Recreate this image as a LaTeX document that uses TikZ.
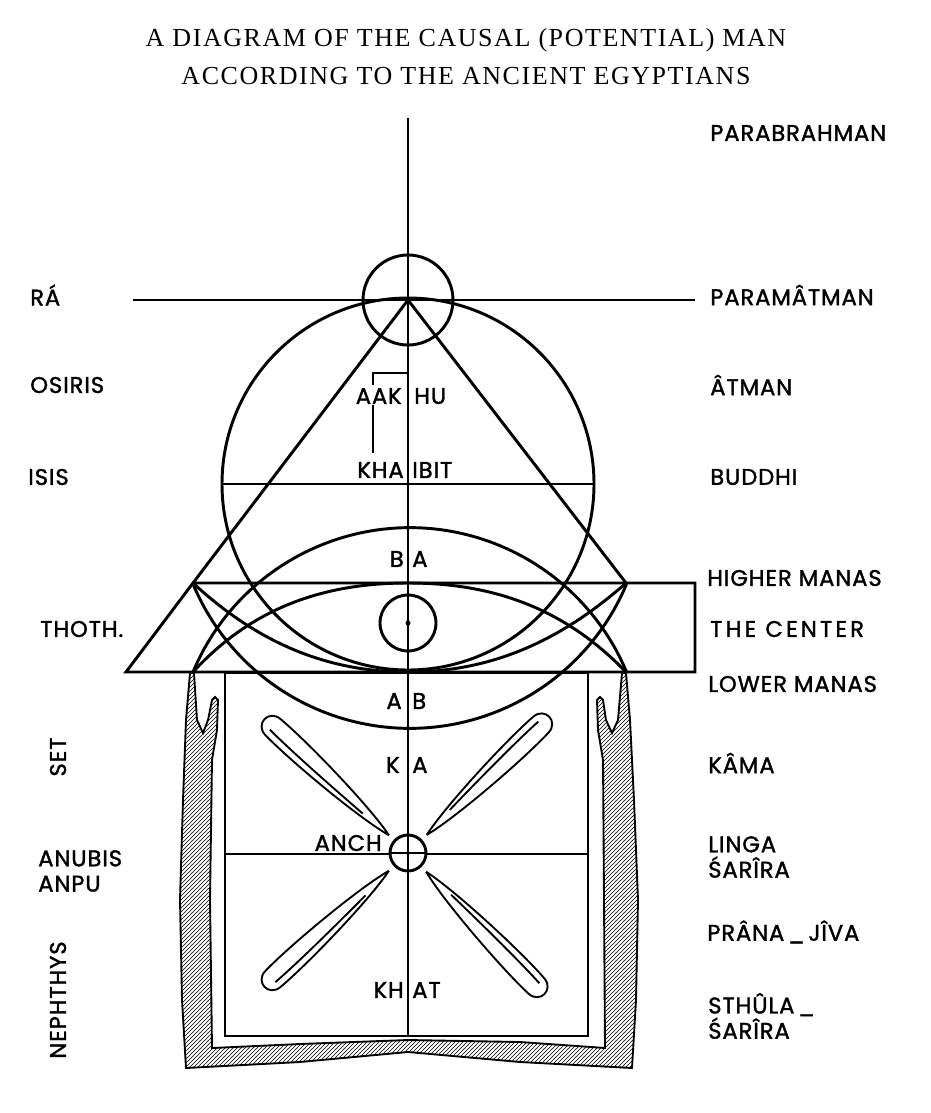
\documentclass[tikz,border=0pt]{standalone}
\usepackage{fontspec}
\setmainfont{Liberation Serif}
\newfontfamily\lab[FakeBold=1.5,LetterSpace=4]{Poppins}
\usetikzlibrary{patterns}
\begin{document}
\begin{tikzpicture}[x=0.75pt,y=-0.75pt,
  ln/.style={line width=2.2pt},
  thin/.style={line width=1.4pt},
  lbl/.style={font=\lab\fontsize{17}{19}\selectfont,inner sep=0pt},
  lblr/.style={lbl,anchor=west},
  lbll/.style={lbl,anchor=west},
  ttl/.style={font=\addfontfeature{LetterSpace=6}\fontsize{19.5}{22}\selectfont,inner sep=0pt}]
\useasboundingbox (0,0) rectangle (931,1113);
\fill[white] (0,0) rectangle (931,1113);
% title
\node[ttl] (t1) at (466,40) {A DIAGRAM OF THE CAUSAL (POTENTIAL) MAN};
\node[ttl] (t2) at (466,76) {ACCORDING TO THE ANCIENT EGYPTIANS};
% hatched frame
\draw[thin,pattern=north east lines] (190,673) -- (186,720) -- (183,800) -- (180,900) -- (182,1000) -- (186,1068)
  -- (300,1062) -- (408,1052) -- (520,1062) -- (632,1068)
  -- (636,1000) -- (638,900) -- (634,800) -- (630,720) -- (626,673)
  -- (622,673) -- (618,720) -- (612,733) -- (606,720) -- (603,700) -- (600,697) -- (597,700) -- (598,730) -- (603,760)
  -- (604,900) -- (605,1048) -- (520,1042) -- (408,1040) -- (300,1044) -- (212,1048)
  -- (210,900) -- (212,760) -- (217,730) -- (218,700) -- (215,697) -- (212,700) -- (208,720) -- (203,733) -- (197,720) -- (194,673) -- cycle;
\fill[white] (226,674) rectangle (587,1035);
% axes
\coordinate (vt) at (408,118); \coordinate (vb) at (408,1036);
\draw[ln] (vt) -- (vb);
\coordinate (hl) at (133,300); \coordinate (hr) at (695,300);
\draw[ln] (hl) -- (hr);
% circles
\draw[ln] (408,300) circle[radius=45];
\draw[ln] (408,484) circle[radius=186];
\draw[ln] (222,484) -- (594,484);
% triangle and band
\coordinate (apex) at (408,300);
\coordinate (tl) at (193,583); \coordinate (tr) at (626,583);
\coordinate (bl) at (126,672); \coordinate (br) at (695,672);
\draw[ln] (apex) -- (tl) -- (bl) -- (br) -- (695,583) -- (tl);
\draw[ln] (apex) -- (tr);
% vesica arcs
\draw[ln] (193,672) arc[start angle=202.7,end angle=337.3,radius=235];
\draw[ln] (193,584) arc[start angle=157.3,end angle=22.7,radius=235];
% eye lids
\draw[ln] (193,672) .. controls (250,610) and (320,583) .. (408,583) .. controls (496,583) and (566,610) .. (626,672);
\draw[ln] (193,583) .. controls (260,645) and (330,672) .. (408,672) .. controls (486,672) and (556,645) .. (626,583);
\draw[ln] (408,623) circle[radius=28];
\fill (408,623) circle[radius=2.5];
% inner rectangle
\draw[ln] (225,673) rectangle (588,1036);
\draw[ln] (225,854) -- (588,854);
\draw[ln,fill=white] (408,853) circle[radius=18];
\draw[ln] (390,853) -- (426,853);
\draw[ln] (408,835) -- (408,871);
% petals
\foreach \a in {137,44,223,314}{
 \begin{scope}[shift={(408,853)},rotate=\a]
  \draw[thin] (26,0) .. controls (60,8) and (150,13) .. (185,11) .. controls (200,10) and (200,-10) .. (185,-11) .. controls (150,-13) and (60,-8) .. (26,0);
  \draw[thin] (60,-2) .. controls (110,-4) and (160,-5) .. (185,-4);
 \end{scope}}
% AAKHU bracket
\draw[thin] (373,385) -- (373,373) -- (408,373);
\draw[thin] (373,405) -- (373,453);
% inner labels
\node[lbl,anchor=east] (aak) at (402,396) {AAK};
\node[lbl,anchor=west] (hu) at (414,396) {HU};
\node[lbl,anchor=east] (kha) at (404,470) {KHA};
\node[lbl,anchor=west] (ibit) at (412,470) {IBIT};
\node[lbl,anchor=east] (b1) at (404,559) {B};
\node[lbl,anchor=west] (a1) at (412,559) {A};
\node[lbl,anchor=east] (a2) at (402,701) {A};
\node[lbl,anchor=west] (b2) at (412,701) {B};
\node[lbl,anchor=east] (k) at (400,765) {K};
\node[lbl,anchor=west] (a3) at (412,765) {A};
\node[lbl,anchor=east] (anch) at (382,843) {ANCH};
\node[lbl,anchor=east] (kh) at (404,990) {KH};
\node[lbl,anchor=west] (at) at (412,990) {AT};
% right labels
\node[lblr] (r1) at (710,133) {PARABRAHMAN};
\node[lblr] (r2) at (710,295) {PARAMÂTMAN};
\node[lblr] (r3) at (710,385) {ÂTMAN};
\node[lblr] (r4) at (710,477) {BUDDHI};
\node[lblr] (r5) at (707,578) {HIGHER MANAS};
\node[lblr] (r6) at (710,629) {\addfontfeature{LetterSpace=14}THE CENTER};
\node[lblr] (r7) at (708,684) {LOWER MANAS};
\node[lblr] (r8) at (708,763) {KÂMA};
\node[lblr,align=left] (r9) at (708,857) {LINGA\\ŚARÎRA};
\node[lblr] (r10) at (707,932) {PRÂNA\,\_\,JÎVA};
\node[lblr,align=left] (r11) at (708,1016) {STHÛLA\,\_\\ŚARÎRA};
% left labels
\node[lbll] (l1) at (30,295) {RÁ};
\node[lbll] (l2) at (30,385) {OSIRIS};
\node[lbll] (l3) at (28,477) {ISIS};
\node[lbll] (l4) at (40,629) {THOTH.};
\node[lbl,rotate=90] (l5) at (58,757) {SET};
\node[lbll,align=left] (l6) at (38,871) {ANUBIS\\ANPU};
\node[lbl,rotate=90] (l7) at (58,1000) {NEPHTHYS};
\end{tikzpicture}
\end{document}
